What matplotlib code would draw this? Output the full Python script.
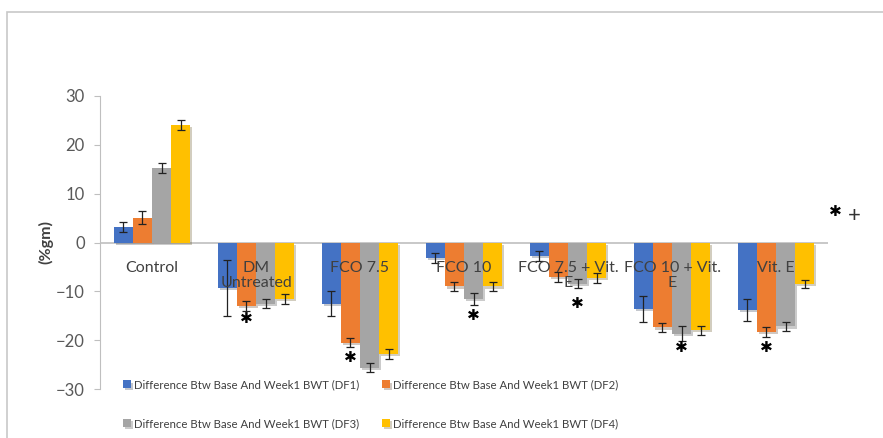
import numpy as np
import matplotlib
matplotlib.use("Agg")
import matplotlib.pyplot as plt
import matplotlib.patheffects as pe
from matplotlib.patches import Rectangle

plt.rcParams['font.family'] = ['Lato', 'DejaVu Sans']

groups = ['Control', 'DM\nUntreated', 'FCO 7.5', 'FCO 10', 'FCO 7.5 + Vit.\nE', 'FCO 10 + Vit.\nE', 'Vit. E']
series = ['Difference Btw Base And Week1 BWT (DF1)', 'Difference Btw Base And Week1 BWT (DF2)',
          'Difference Btw Base And Week1 BWT (DF3)', 'Difference Btw Base And Week1 BWT (DF4)']

df1 = [3.2, -9.3, -12.5, -3.1, -2.7, -13.6, -13.8]
df2 = [5.1, -13.0, -20.5, -9.0, -7.0, -17.4, -18.4]
df3 = [15.2, -12.5, -25.6, -11.5, -8.4, -18.7, -17.2]
df4 = [24.0, -11.5, -22.8, -9.0, -7.2, -18.0, -8.5]

err1 = [1.0, 5.8, 2.5, 1.0, 1.0, 2.7, 2.3]
err2 = [1.3, 1.0, 1.0, 1.0, 1.0, 1.0, 1.0]
err3 = [1.0, 1.0, 1.0, 1.2, 1.0, 1.5, 1.0]
err4 = [1.0, 1.0, 1.0, 1.0, 1.0, 1.0, 0.8]

# significance stars: (group, series, y)
star_group = [1, 2, 3, 4, 5, 6]
star_series = [1, 1, 2, 2, 2, 1]
star_y = [-15.6, -23.6, -15.0, -12.5, -21.5, -21.5]

colors = ['#4472C4', '#ED7D31', '#A5A5A5', '#FFC000']
vals = [df1, df2, df3, df4]
errs = [err1, err2, err3, err4]

fig = plt.figure(figsize=(8.83, 4.38), dpi=100)
fig.patches.append(Rectangle((7/883, -0.1), 1.2, 1 - 12/438 + 0.1, transform=fig.transFigure,
                             fill=False, edgecolor='#C8C8C8', linewidth=1.2))

ax = fig.add_axes([100/883, 49/438, 728/883, 293/438])
x = np.arange(len(groups))
w = 0.183
shadow = [pe.SimplePatchShadow(offset=(1.5, -1.5), alpha=0.25), pe.Normal()]
handles = []
for k in range(4):
    pos = x + (k - 1.5) * w
    b = ax.bar(pos, vals[k], w, color=colors[k], label=series[k], zorder=2)
    for r in b:
        r.set_path_effects(shadow)
    ax.errorbar(pos, vals[k], yerr=errs[k], fmt='none', ecolor='#222222', elinewidth=0.9,
                capsize=3, capthick=0.9, zorder=3)
    handles.append(b)

for g, s, yv in zip(star_group, star_series, star_y):
    ax.text(x[g] + (s - 1.5) * w, yv, '✱', ha='center', va='center', fontsize=11,
            color='black', family='DejaVu Sans', zorder=4)

ax.axhline(0, color='#BFBFBF', linewidth=1.2, zorder=1)
for i, g in enumerate(groups):
    ax.annotate(g, (x[i], 0), xytext=(0, -13), textcoords='offset points', ha='center', va='top',
                fontsize=11.5, color='#404040', linespacing=1.15, zorder=5)

ax.set_xlim(-0.5, len(groups) - 0.5)
ax.set_ylim(-30, 30)
ax.set_yticks([-30, -20, -10, 0, 10, 20, 30])
ax.set_xticks([])
for sp in ['top', 'right', 'bottom']:
    ax.spines[sp].set_visible(False)
ax.spines['left'].set_color('#BFBFBF')
ax.tick_params(axis='y', colors='#BFBFBF', length=4, pad=7, labelsize=12, labelcolor='#595959')
ax.set_ylabel('(%gm)', fontsize=11.5, fontweight='bold', color='#404040', labelpad=2)
ax.patch.set_visible(False)

fig.text(835/883, 1 - 212/438, '✱', ha='center', va='center', fontsize=11, family='DejaVu Sans')
fig.text(854/883, 1 - 216/438, '+', ha='center', va='center', fontsize=16, color='#333333')

order = [0, 2, 1, 3]
fig.legend([handles[i] for i in order], [series[i] for i in order], ncol=2,
           loc='upper left', bbox_to_anchor=(113/883, 1 - 369/438), frameon=False,
           fontsize=8.2, handlelength=0.65, handleheight=0.65, handletextpad=0.3,
           columnspacing=2.0, labelspacing=2.45, labelcolor='#404040')

fig.savefig('out.png', dpi=100)
